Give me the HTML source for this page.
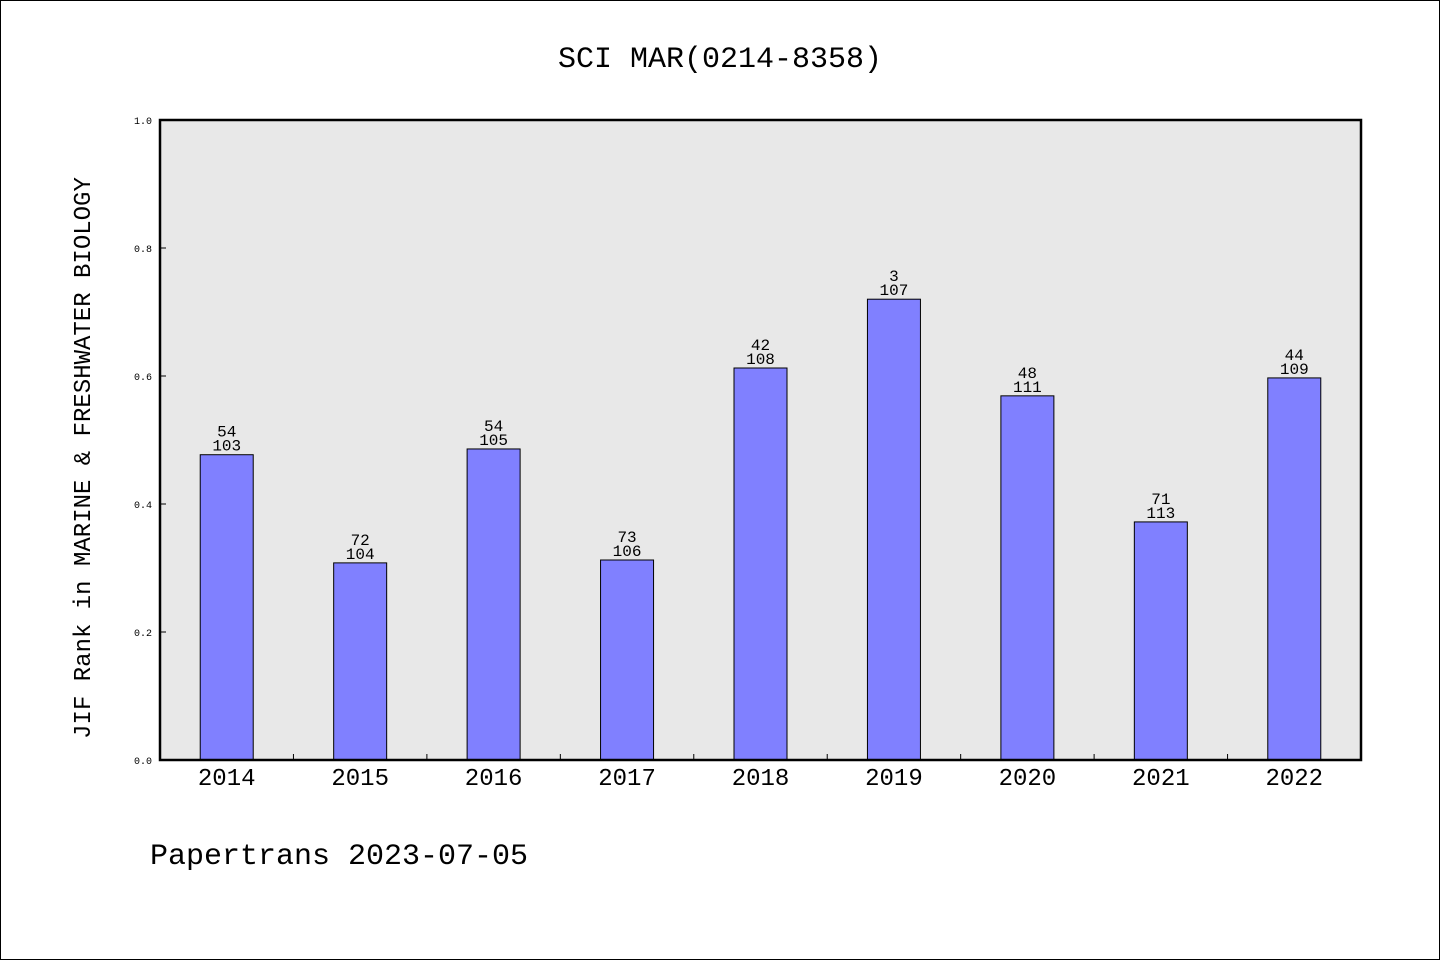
<!DOCTYPE html>
<html><head><meta charset="utf-8"><style>
html,body{margin:0;padding:0;background:#fff;}
svg{display:block;font-family:"WenQuanYi Zen Hei","Liberation Mono",monospace;}
</style></head><body>
<svg id="chart" width="1440" height="960" viewBox="0 0 1440 960">
<rect x="0.5" y="0.5" width="1439" height="959" fill="#fff" stroke="#000"/>
<text x="720" y="67" text-anchor="middle" font-size="30">SCI MAR(0214-8358)</text>
<rect x="160" y="120" width="1201" height="640" fill="#e8e8e8"/>
<g id="yaxis"></g>
<g id="bars"></g>
<rect x="160" y="120" width="1201" height="640" fill="none" stroke="#000" stroke-width="2.5"/>
<text transform="translate(90,458) rotate(-90)" text-anchor="middle" font-size="24">JIF Rank in MARINE &amp; FRESHWATER BIOLOGY</text>
<text x="150" y="864" font-size="30">Papertrans 2023-07-05</text>
</svg>
<script>
const years=["2014","2015","2016","2017","2018","2019","2020","2021","2022"];
const values=[0.477,0.308,0.486,0.3125,0.6125,0.720,0.569,0.372,0.597];
const ranks=["54","72","54","73","42","3","48","71","44"];
const totals=["103","104","105","106","108","107","111","113","109"];
const yTicks=["0.0","0.2","0.4","0.6","0.8","1.0"];
const NS="http://www.w3.org/2000/svg";
const x0=160,x1=1361,y0=760,y1=120;
const band=(x1-x0)/years.length;
const xC=i=>x0+band*(i+0.5);
const yS=v=>y0-(y0-y1)*v;
function mk(t,a,p){const e=document.createElementNS(NS,t);for(const k in a)e.setAttribute(k,a[k]);p.appendChild(e);return e;}
const ya=document.getElementById('yaxis'),bg=document.getElementById('bars');
yTicks.forEach(t=>{const v=parseFloat(t),y=yS(v);
const l=mk('line',{x1:x0,x2:x0+6,y1:y,y2:y,stroke:'#000'},ya);


const tx=mk('text',{x:152,y:y+4,'text-anchor':'end','font-size':10},ya);tx.textContent=t;

});
for(let i=1;i<years.length;i++){const x=x0+band*i;
const l=mk('line',{x1:x,x2:x,y1:y0,y2:y0-6,stroke:'#000'},ya);

}
years.forEach((yr,i)=>{const c=xC(i),y=yS(values[i]);
const r=mk('rect',{x:c-26.5,y:y,width:53,height:y0-y,fill:'#8080ff',stroke:'#000','stroke-width':1},bg);


const t1=mk('text',{x:c,y:y-18,'text-anchor':'middle','font-size':16},bg);t1.textContent=ranks[i];


const t2=mk('text',{x:c,y:y-4,'text-anchor':'middle','font-size':16},bg);t2.textContent=totals[i];


const t3=mk('text',{x:c,y:785,'text-anchor':'middle','font-size':24},bg);t3.textContent=yr;

});
</script>
</body></html>
